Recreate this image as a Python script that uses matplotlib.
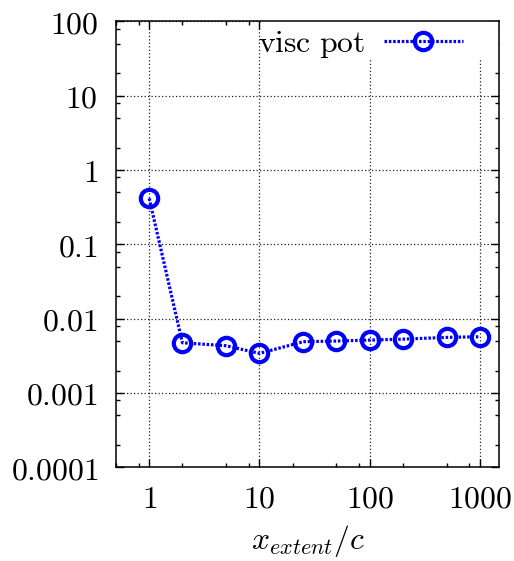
import matplotlib
matplotlib.use("Agg")
import matplotlib.pyplot as plt
from matplotlib.patches import Rectangle
from matplotlib.ticker import FixedLocator, NullFormatter, FuncFormatter

plt.rcParams['mathtext.fontset'] = 'cm'
plt.rcParams['font.family'] = 'serif'
plt.rcParams['font.serif'] = ['DejaVu Serif']

# x_extent / c and the viscous-potential error
x_extent = [1, 2, 5, 10, 25, 50, 100, 200, 500, 1000]
visc_pot = [0.416, 0.00474, 0.00432, 0.00341, 0.0049, 0.0050, 0.00515, 0.0053, 0.0056, 0.00571]

x_major = [1, 10, 100, 1000]
x_labels = ['1', '10', '100', '1000']
y_major = [1e-4, 1e-3, 1e-2, 1e-1, 1, 10, 100]
y_labels = ['0.0001', '0.001', '0.01', '0.1', '1', '10', '100']
series_label = 'visc pot'

FS = 22.8
blue = '#0000ff'

fig = plt.figure(figsize=(5.14, 5.61), dpi=100)
ax = fig.add_axes([0.2257, 0.167, 0.9714 - 0.2257, 0.9619 - 0.167])
ax.set_xscale('log')
ax.set_yscale('log')
ax.set_xlim(0.5, 1500)
ax.set_ylim(1e-4, 100)

# minor ticks at 2, 5 and 8 of every decade
def minors(lo, hi):
    out = []
    e = lo
    while e <= hi:
        for m in (2, 5, 8):
            out.append(m * 10.0 ** e)
        e += 1
    return out

ax.xaxis.set_major_locator(FixedLocator(x_major))
ax.xaxis.set_minor_locator(FixedLocator(minors(-1, 3)))
ax.yaxis.set_major_locator(FixedLocator(y_major))
ax.yaxis.set_minor_locator(FixedLocator(minors(-5, 2)))
ax.xaxis.set_major_formatter(FuncFormatter(lambda v, p: r'$\mathrm{%s}$' % x_labels[x_major.index(v)] if v in x_major else ''))
ax.yaxis.set_major_formatter(FuncFormatter(lambda v, p: r'$\mathrm{%s}$' % y_labels[y_major.index(v)] if v in y_major else ''))
ax.xaxis.set_minor_formatter(NullFormatter())
ax.yaxis.set_minor_formatter(NullFormatter())

ax.tick_params(which='both', direction='in', top=True, right=True, width=1.0, color='black')
ax.tick_params(which='major', length=5.8, labelsize=FS)
ax.tick_params(which='minor', length=2.9)
ax.tick_params(axis='x', which='major', pad=12)
ax.tick_params(axis='y', which='major', pad=13)
for s in ax.spines.values():
    s.set_linewidth(1.1)

ax.set_axisbelow(True)
ax.grid(True, which='major', color='#222222', linewidth=0.9, linestyle=(0, (1.0, 1.8)))

# blank area behind the key
ax.add_patch(Rectangle((0.378, 0.918), 0.622, 0.082, transform=ax.transAxes,
                       facecolor='white', edgecolor='none', zorder=1.5))

ax.plot(x_extent, visc_pot, color=blue, linewidth=2.3, linestyle=(0, (0.8, 0.55)),
        marker='o', markersize=12.5, markerfacecolor='none', markeredgewidth=3.0,
        markeredgecolor=blue, label=r'$\mathrm{%s}$' % series_label.replace(' ', r'\ '),
        zorder=3)

ax.legend(loc='center right', bbox_to_anchor=(0.905, 0.949), frameon=False,
          markerfirst=False, borderpad=0, borderaxespad=0, fontsize=FS,
          handlelength=2.5, handletextpad=0.6, numpoints=1)

ax.set_xlabel(r'$x_{extent}/c$', fontsize=FS, labelpad=6)

fig.savefig('out.png', dpi=100)
